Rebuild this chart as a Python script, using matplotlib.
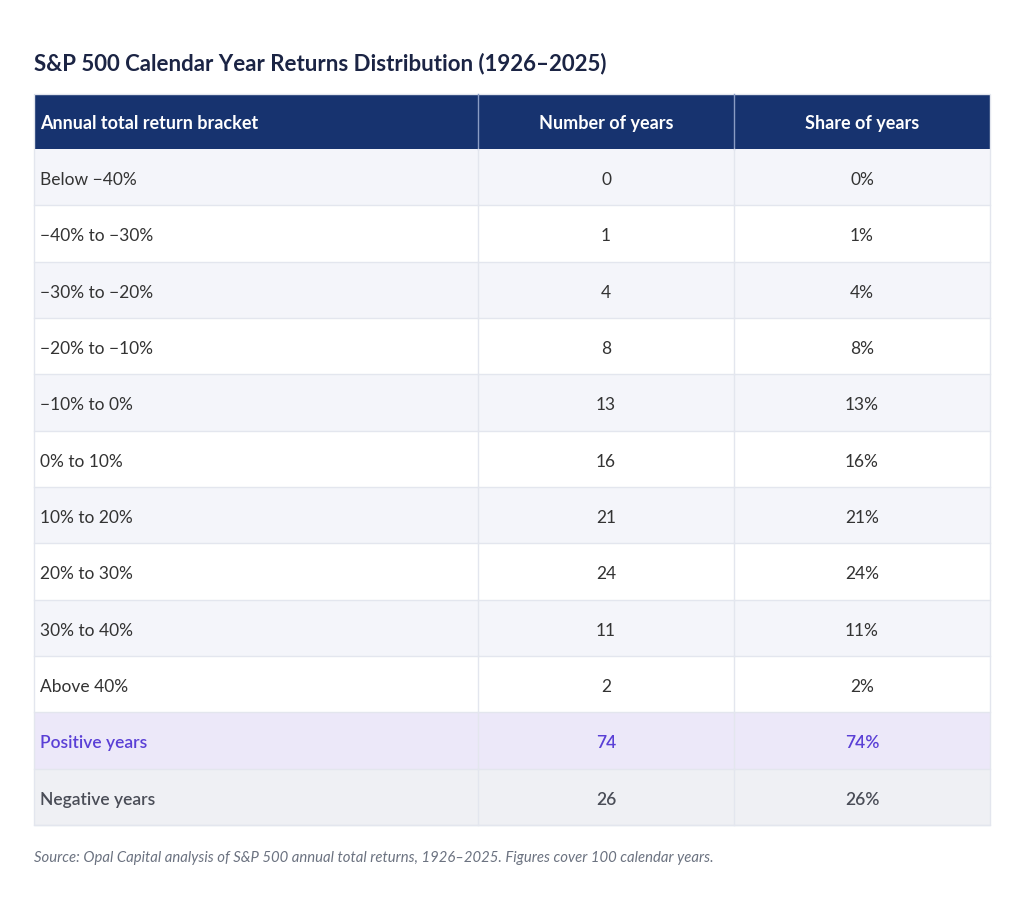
import matplotlib
matplotlib.use("Agg")
import matplotlib.pyplot as plt
from matplotlib.patches import Rectangle

plt.rcParams['font.family'] = ['Lato', 'DejaVu Sans']

title = "S&P 500 Calendar Year Returns Distribution (1926–2025)"
headers = ["Annual total return bracket", "Number of years", "Share of years"]
brackets = ["Below −40%", "−40% to −30%", "−30% to −20%", "−20% to −10%", "−10% to 0%",
            "0% to 10%", "10% to 20%", "20% to 30%", "30% to 40%", "Above 40%",
            "Positive years", "Negative years"]
counts = [0, 1, 4, 8, 13, 16, 21, 24, 11, 2, 74, 26]
shares = ["0%", "1%", "4%", "8%", "13%", "16%", "21%", "24%", "11%", "2%", "74%", "26%"]
source = "Source: Opal Capital analysis of S&P 500 annual total returns, 1926–2025. Figures cover 100 calendar years."

W, H = 1024, 903
fig = plt.figure(figsize=(W / 100, H / 100), dpi=100)
ax = fig.add_axes([0, 0, 1, 1])
ax.set_xlim(0, W)
ax.set_ylim(H, 0)
ax.axis('off')

left, right = 34, 990
col_x = [34, 478, 734, 990]
head_top, head_bot = 95, 150
row_h = (826 - 150) / 12

header_bg = "#17336f"
grid = "#e3e6ee"
text_c = "#333333"
body_fs = 12.5
head_fs = 13

ax.text(left, 64, title, fontsize=16, fontweight='bold', color="#1b2444", va='center', ha='left')

# header
ax.add_patch(Rectangle((left, head_top), right - left, head_bot - head_top, facecolor=header_bg, edgecolor='none'))
for cx in col_x[1:-1]:
    ax.plot([cx, cx], [head_top, head_bot], color="#8a9cc4", lw=1)
hy = (head_top + head_bot) / 2 + 1
ax.text(col_x[0] + 6, hy, headers[0], fontsize=head_fs, fontweight='bold', color='white', va='center', ha='left')
for j in (1, 2):
    ax.text((col_x[j] + col_x[j + 1]) / 2, hy, headers[j], fontsize=head_fs, fontweight='bold', color='white', va='center', ha='center')

for i, (b, c, s) in enumerate(zip(brackets, counts, shares)):
    y0 = head_bot + i * row_h
    yc = y0 + row_h / 2 + 2
    if b == "Positive years":
        bg, tc, fw = "#ece8f9", "#5a3fd6", 'semibold'
    elif b == "Negative years":
        bg, tc, fw = "#eff0f4", "#4a4d57", 'semibold'
    else:
        bg = "#f4f5fa" if i % 2 == 0 else "#ffffff"
        tc, fw = text_c, 'normal'
    ax.add_patch(Rectangle((left, y0), right - left, row_h, facecolor=bg, edgecolor='none'))
    ax.plot([left, right], [y0 + row_h, y0 + row_h], color=grid, lw=1)
    for cx in col_x[1:-1]:
        ax.plot([cx, cx], [y0, y0 + row_h], color=grid, lw=1)
    ax.text(col_x[0] + 6, yc, b, fontsize=body_fs, color=tc, fontweight=fw, va='center', ha='left')
    ax.text((col_x[1] + col_x[2]) / 2, yc, str(c), fontsize=body_fs, color=tc, fontweight=fw, va='center', ha='center')
    ax.text((col_x[2] + col_x[3]) / 2, yc, s, fontsize=body_fs, color=tc, fontweight=fw, va='center', ha='center')

# outer border
ax.add_patch(Rectangle((left, head_top), right - left, 826 - head_top, facecolor='none', edgecolor=grid, lw=1))

ax.text(left, 858, source, fontsize=10.75, style='italic', color="#6b7280", va='center', ha='left')

fig.savefig("out.png", dpi=100, facecolor='white')
